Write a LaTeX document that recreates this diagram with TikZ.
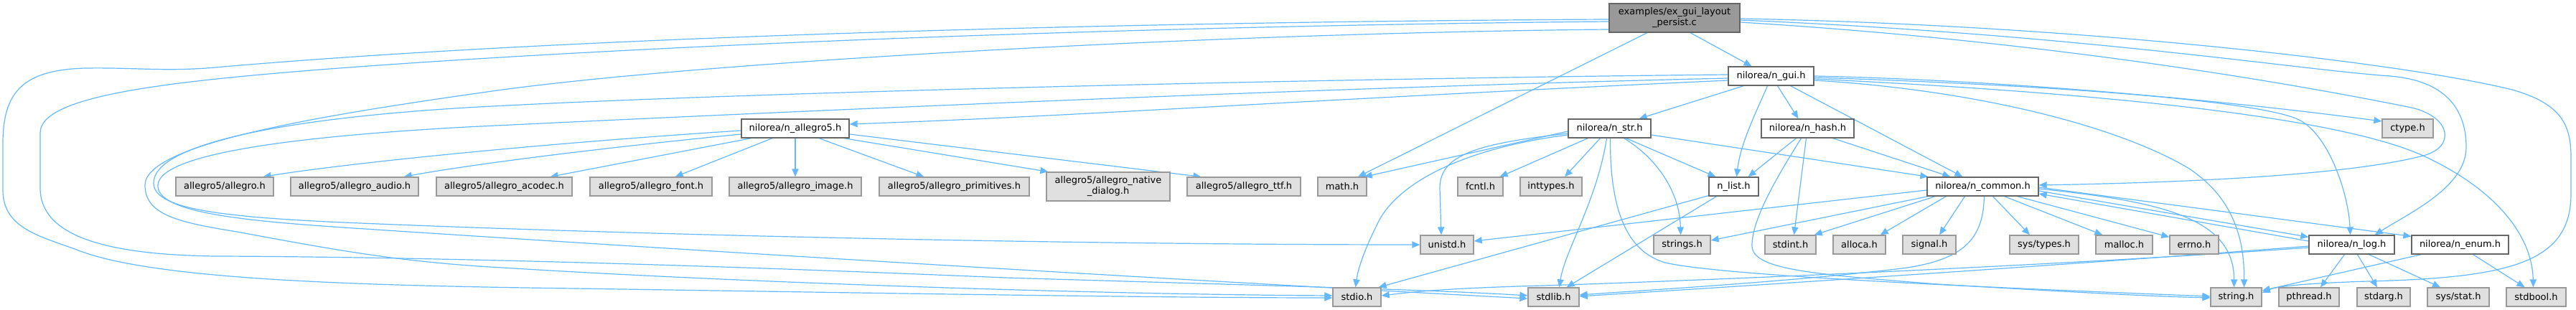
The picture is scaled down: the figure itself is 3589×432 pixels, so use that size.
\documentclass[tikz,border=0pt]{standalone}
\usepackage{fontspec}
\setmainfont{DejaVu Sans}
\usetikzlibrary{arrows.meta,calc}
\definecolor{edgec}{HTML}{63B8FF}
\definecolor{extfill}{HTML}{E0E0E0}
\definecolor{extline}{HTML}{999999}
\definecolor{intline}{HTML}{666666}
\definecolor{mainfill}{HTML}{999999}
\pgfdeclarelayer{bg}
\pgfsetlayers{bg,main}
\begin{document}
\begin{tikzpicture}[x=0.5pt,y=-0.5pt,
 nb/.style={draw, line width=0.65pt, inner sep=0pt, font=\fontsize{6.5}{7.5}\selectfont, align=center, minimum height=13pt},
 ext/.style={nb, fill=extfill, draw=extline},
 int/.style={nb, fill=white, draw=intline},
 topn/.style={nb, fill=mainfill, draw=intline, minimum height=20pt},
 e/.style={draw=edgec, line width=0.6pt, -{Triangle[length=5.5pt,width=4.6pt]}}]
\useasboundingbox (0,0) rectangle (3589,432);
% nodes
\node[topn, minimum width=91pt] (M) at (2333,25) {examples/ex\_gui\_layout\\\_persist.c};
\node[int, minimum width=59.5pt] (G) at (2467.5,106) {nilorea/n\_gui.h};
\node[int, minimum width=75pt] (A5) at (1108,179) {nilorea/n\_allegro5.h};
\node[int, minimum width=57.5pt] (S) at (2242.5,179) {nilorea/n\_str.h};
\node[int, minimum width=64.5pt] (H) at (2518.5,179) {nilorea/n\_hash.h};
\node[ext, minimum width=35.5pt] (ctype) at (3354.5,179) {ctype.h};
\node[ext, minimum width=68pt] (allegro) at (313,260) {allegro5/allegro.h};
\node[ext, minimum width=89pt] (audio) at (494,260) {allegro5/allegro\_audio.h};
\node[ext, minimum width=94.5pt] (acodec) at (702.5,260) {allegro5/allegro\_acodec.h};
\node[ext, minimum width=85pt] (font) at (907,260) {allegro5/allegro\_font.h};
\node[ext, minimum width=92pt] (image) at (1108,260) {allegro5/allegro\_image.h};
\node[ext, minimum width=104.5pt] (primitives) at (1329.5,260) {allegro5/allegro\_primitives.h};
\node[ext, minimum width=86pt, minimum height=20pt] (native) at (1544,260) {allegro5/allegro\_native\\\_dialog.h};
\node[ext, minimum width=79pt] (ttf) at (1733,260) {allegro5/allegro\_ttf.h};
\node[ext, minimum width=34pt] (math) at (1870,260) {math.h};
\node[ext, minimum width=31.5pt] (fcntl) at (2062.5,260) {fcntl.h};
\node[ext, minimum width=43pt] (inttypes) at (2161,260) {inttypes.h};
\node[int, minimum width=34.5pt] (nlist) at (2415.5,260) {n\_list.h};
\node[int, minimum width=77.5pt] (C) at (2762.5,260) {nilorea/n\_common.h};
\node[ext, minimum width=37pt] (unistd) at (2016,341) {unistd.h};
\node[ext, minimum width=39.5pt] (strings) at (2343.5,341) {strings.h};
\node[ext, minimum width=35.5pt] (stdint) at (2494.5,341) {stdint.h};
\node[ext, minimum width=36.5pt] (alloca) at (2590.5,341) {alloca.h};
\node[ext, minimum width=37pt] (signal) at (2688,341) {signal.h};
\node[ext, minimum width=48pt] (systypes) at (2848,341) {sys/types.h};
\node[ext, minimum width=39.5pt] (malloc) at (2959.5,341) {malloc.h};
\node[ext, minimum width=34pt] (errno) at (3057,341) {errno.h};
\node[int, minimum width=59.5pt] (LG) at (3276.5,341) {nilorea/n\_log.h};
\node[int, minimum width=67.5pt] (E) at (3427.5,341) {nilorea/n\_enum.h};
\node[ext, minimum width=33.5pt] (stdio) at (1890.5,414) {stdio.h};
\node[ext, minimum width=35.5pt] (stdlib) at (2164.5,414) {stdlib.h};
\node[ext, minimum width=35.5pt] (string) at (3115.5,414) {string.h};
\node[ext, minimum width=42pt] (pthread) at (3217,414) {pthread.h};
\node[ext, minimum width=37pt] (stdarg) at (3321,414) {stdarg.h};
\node[ext, minimum width=43pt] (sysstat) at (3425,414) {sys/stat.h};
\node[ext, minimum width=41.5pt] (stdbool) at (3533.5,414) {stdbool.h};
\begin{pgfonlayer}{bg}
% main file
\draw[e] ($(M.south)+(22,0)$) -- ($(G.north)+(-27,0)$);
\draw[e] ($(M.south)+(-38,0)$) -- ($(math.north)+(22,0)$);
\draw[e] ($(M.west)+(0,2)$) .. controls (1600,30) and (800,50) .. (300,94) .. controls (230,100) and (190,94) .. (120,95) .. controls (30,97) and (4,130) .. (4,200) -- (4,265) .. controls (4,320) and (60,330) .. (112,350) .. controls (220,390) and (500,398) .. (800,402) .. controls (1200,408) and (1600,415) .. ($(stdio.west)+(0,1)$);
\draw[e] ($(M.west)+(0,5)$) .. controls (1600,36) and (900,62) .. (446,97) .. controls (220,115) and (56,135) .. (56,185) -- (56,262) .. controls (56,330) and (150,355) .. (300,357) .. controls (600,358) and (1000,370) .. (1400,387) .. controls (1800,399) and (2000,404) .. ($(stdlib.west)+(0,-2)$);
\draw[e] ($(M.west)+(0,16)$) .. controls (1700,46) and (1000,85) .. (700,125) .. controls (450,160) and (202,200) .. (202,258) .. controls (202,300) and (250,310) .. (330,323) .. controls (450,345) and (550,365) .. (700,373) .. controls (1000,392) and (1500,410) .. ($(stdio.west)+(0,-2)$);
\draw[e] ($(M.east)+(0,1)$) .. controls (2900,35) and (3350,88) .. (3500,125) .. controls (3570,145) and (3582,175) .. (3582,220) -- (3582,270) .. controls (3582,365) and (3500,387) .. (3300,392) .. controls (3200,395) and (3170,400) .. ($(string.east)+(0,-6)$);
\draw[e] ($(M.east)+(0,3)$) .. controls (2900,48) and (3200,97) .. (3330,106) .. controls (3415,113) and (3436,160) .. (3436,205) .. controls (3436,260) and (3360,295) .. ($(LG.north east)+(-28,0)$);
\draw[e] ($(M.east)+(0,6)$) .. controls (2900,60) and (3250,128) .. (3360,150) .. controls (3415,163) and (3422,205) .. (3376,217) .. controls (3250,250) and (2950,256) .. ($(C.east)+(0,-2)$);
% n_gui
\draw[e] ($(G.west)+(0,-2)$) .. controls (1800,110) and (1000,130) .. (650,150) .. controls (400,165) and (214,200) .. (214,255) .. controls (214,290) and (300,302) .. (478,310) .. controls (900,328) and (1500,341) .. (unistd.west);
\draw[e] ($(G.west)+(0,3)$) .. controls (1800,123) and (1000,160) .. (650,177) .. controls (450,188) and (222,210) .. (220,258) .. controls (218,295) and (330,307) .. (478,317) .. controls (900,345) and (1600,388) .. ($(stdlib.west)+(0,2)$);
\draw[e] ($(G.west)+(0,6)$) .. controls (1800,140) and (1500,162) .. ($(A5.east)+(0,-6)$);
\draw[e] ($(G.south west)+(22,0)$) -- ($(S.north east)+(-17,0)$);
\draw[e] ($(G.south)+(-5,0)$) .. controls (2445,160) and (2425,200) .. ($(nlist.north)+(4,0)$);
\draw[e] ($(G.south)+(9,0)$) -- ($(H.north)+(-13,0)$);
\draw[e] ($(G.south east)+(-33,0)$) -- ($(C.north west)+(50,0)$);
\draw[e] (G.east) .. controls (2800,112) and (3100,140) .. ($(ctype.west)+(0,-10)$);
\draw[e] ($(G.east)+(0,2)$) .. controls (2900,120) and (3160,143) .. (3205,168) .. controls (3245,190) and (3272,270) .. ($(LG.north)+(-2,0)$);
\draw[e] ($(G.east)+(0,4)$) .. controls (2900,128) and (3250,160) .. (3376,217) .. controls (3480,265) and (3528,330) .. ($(stdbool.north)+(-4,0)$);
\draw[e] ($(G.east)+(0,6)$) .. controls (2750,125) and (2950,175) .. (3050,235) .. controls (3110,275) and (3127,330) .. ($(string.north)+(11,0)$);
% n_allegro5
\draw[e] ($(A5.west)+(0,3)$) .. controls (750,200) and (480,228) .. ($(allegro.north east)+(-15,0)$);
\draw[e] ($(A5.west)+(0,8)$) .. controls (800,210) and (640,232) .. ($(audio.north east)+(-21,0)$);
\draw[e] ($(A5.south west)+(14,0)$) -- ($(acodec.north east)+(-31,0)$);
\draw[e] ($(A5.south)+(-32,0)$) -- ($(font.north east)+(-52,0)$);
\draw[e] (A5.south) -- (image.north);
\draw[e] ($(A5.south)+(33,0)$) -- ($(primitives.north west)+(63,0)$);
\draw[e] ($(A5.south east)+(-8,0)$) -- ($(native.north west)+(3,0)$);
\draw[e] ($(A5.east)+(0,8)$) -- ($(ttf.north west)+(20,0)$);
% n_str
\draw[e] ($(S.west)+(0,4)$) -- ($(math.north east)+(-4,0)$);
\draw[e] ($(S.west)+(0,7)$) .. controls (2060,200) and (2006,215) .. (2006,262) -- ($(unistd.north)+(-8,0)$);
\draw[e] ($(S.west)+(0,9)$) .. controls (2050,205) and (1950,250) .. (1920,310) .. controls (1900,350) and (1892,375) .. ($(stdio.north)+(-2,0)$);
\draw[e] ($(S.south west)+(28,0)$) -- ($(fcntl.north east)+(-5,0)$);
\draw[e] ($(S.south)+(-13,0)$) -- ($(inttypes.north)+(19,0)$);
\draw[e] ($(S.south)+(-4,0)$) .. controls (2225,280) and (2180,350) .. ($(stdlib.north)+(8,0)$);
\draw[e] ($(S.south)+(1,0)$) .. controls (2243,290) and (2265,350) .. (2320,366) .. controls (2400,385) and (2800,402) .. ($(string.west)+(0,-1)$);
\draw[e] ($(S.south)+(20,0)$) .. controls (2300,215) and (2340,260) .. ($(strings.north)+(-2,0)$);
\draw[e] ($(S.south)+(23,0)$) -- ($(nlist.north west)+(10,0)$);
\draw[e] ($(S.east)+(0,9)$) -- ($(C.north west)+(2,0)$);
% n_hash
\draw[e] ($(H.south)+(-16,0)$) -- ($(nlist.north east)+(-15,0)$);
\draw[e] ($(H.south)+(-2,0)$) -- ($(stdint.north)+(5,0)$);
\draw[e] ($(H.south)+(-9,0)$) .. controls (2480,240) and (2440,305) .. (2441,343) .. controls (2442,375) and (2520,382) .. (2700,396) .. controls (2900,408) and (3000,413) .. ($(string.west)+(0,1)$);
\draw[e] ($(H.south east)+(-30,0)$) -- ($(C.north west)+(33,0)$);
% n_list
\draw[e] ($(nlist.south west)+(0,-1)$) -- ($(stdio.north east)+(-4,0)$);
\draw[e] ($(nlist.south)+(-24,0)$) -- ($(stdlib.north east)+(-18,0)$);
% n_common
\draw[e] ($(C.west)+(0,5)$) -- ($(unistd.east)+(0,-5)$);
\draw[e] ($(C.south west)+(2,0)$) -- ($(strings.east)+(0,-6)$);
\draw[e] ($(C.south west)+(12,0)$) -- ($(stdint.north east)+(-3,0)$);
\draw[e] ($(C.south west)+(27,0)$) -- ($(alloca.north east)+(-8,0)$);
\draw[e] ($(C.south)+(-25,0)$) -- ($(signal.north)+(14,0)$);
\draw[e] ($(C.south)+(14,0)$) -- ($(systypes.north)+(-20,0)$);
\draw[e] ($(C.south)+(30,0)$) -- ($(malloc.north west)+(10,0)$);
\draw[e] ($(C.south)+(48,0)$) -- ($(errno.north west)+(0,3)$);
\draw[e] ($(C.south)+(2,0)$) .. controls (2763,330) and (2740,362) .. (2650,374) .. controls (2500,392) and (2300,404) .. ($(stdlib.east)+(0,-3)$);
\draw[e] ($(C.east)+(0,3)$) .. controls (3000,280) and (3113,300) .. ($(string.north)+(-3,0)$);
\draw[e] ($(C.east)+(0,6)$) -- ($(LG.north west)+(0,3)$);
\draw[e] ($(C.east)+(0,1)$) -- ($(E.north west)+(0,2)$);
% n_log
\draw[e] ($(LG.west)+(0,-5)$) -- ($(C.east)+(0,10)$);
\draw[e] ($(LG.west)+(0,2)$) .. controls (3000,360) and (2600,388) .. ($(stdlib.east)+(0,-1)$);
\draw[e] ($(LG.west)+(0,4)$) .. controls (2900,368) and (2400,390) .. (2150,398) .. controls (2000,402) and (1960,408) .. ($(stdio.east)+(0,-2)$);
\draw[e] ($(LG.south)+(-10,0)$) -- ($(pthread.north)+(16,0)$);
\draw[e] ($(LG.south)+(8,0)$) -- ($(stdarg.north)+(-9,0)$);
\draw[e] ($(LG.south)+(24,0)$) -- ($(sysstat.north)+(-25,0)$);
% n_enum
\draw[e] ($(E.south west)+(14,0)$) -- ($(string.east)+(0,-9)$);
\draw[e] ($(E.south)+(18,0)$) -- ($(stdbool.north)+(-16,0)$);
\end{pgfonlayer}
\end{tikzpicture}
\end{document}
